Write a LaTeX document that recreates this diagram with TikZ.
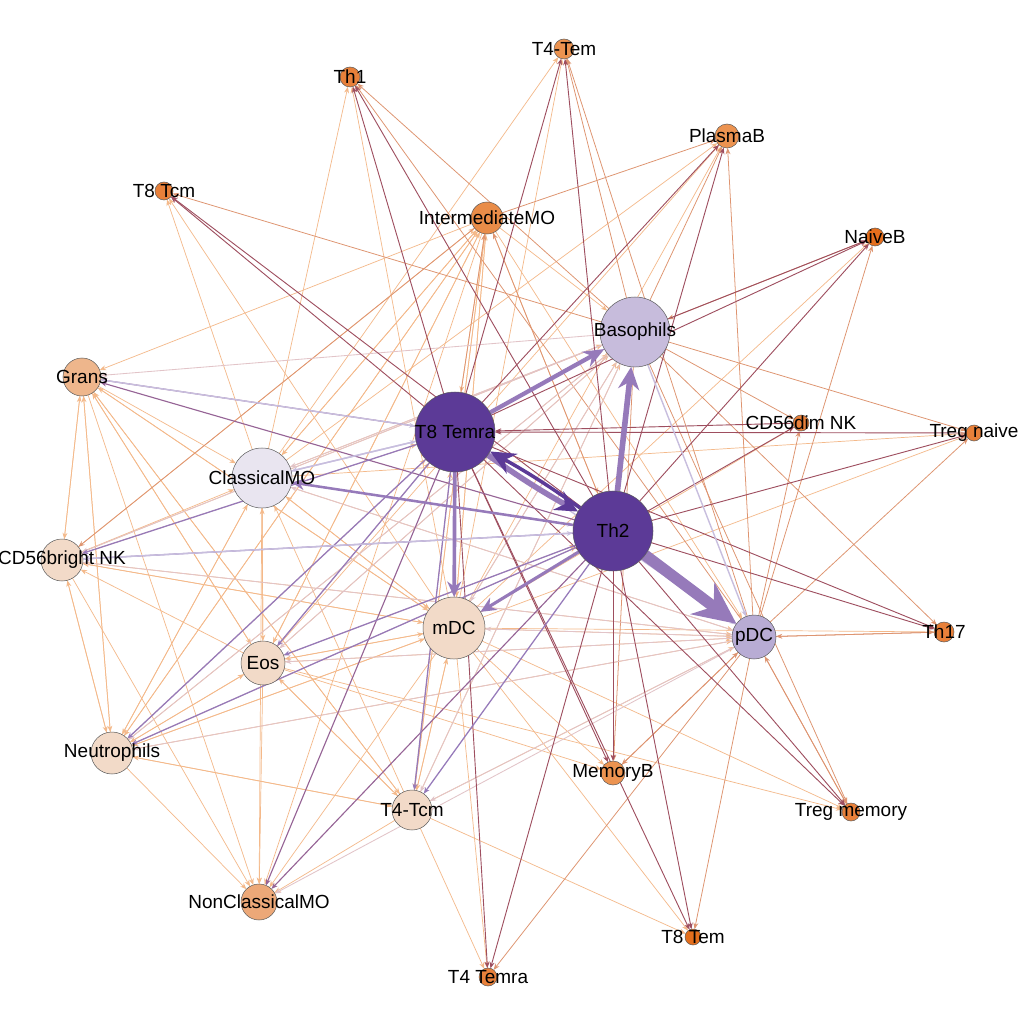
\documentclass[tikz,border=0pt]{standalone}
\usepackage{fontspec}
\setmainfont{Liberation Sans}
\usetikzlibrary{arrows.meta}
\pgfdeclarelayer{bg}
\pgfdeclarelayer{edges}
\pgfsetlayers{bg,edges,main}
\definecolor{cdk}{RGB}{158,78,95}
\definecolor{cor}{RGB}{222,148,112}
\definecolor{clo}{RGB}{244,185,138}
\definecolor{cpl}{RGB}{226,196,200}
\definecolor{cpu}{RGB}{150,122,186}
\definecolor{cmp}{RGB}{150,100,150}
\definecolor{clv}{RGB}{200,190,222}
\definecolor{cdp}{RGB}{92,58,151}
\definecolor{nDark}{RGB}{92,58,151}
\definecolor{nBas}{RGB}{199,188,220}
\definecolor{nPdc}{RGB}{184,172,212}
\definecolor{nCmo}{RGB}{233,229,240}
\definecolor{nPeach}{RGB}{242,218,200}
\definecolor{nGrans}{RGB}{238,182,140}
\definecolor{nNcmo}{RGB}{236,168,120}
\definecolor{nImo}{RGB}{233,140,72}
\definecolor{nOr}{RGB}{232,128,58}
\definecolor{nOrL}{RGB}{236,147,80}
\definecolor{nOrD}{RGB}{228,110,28}
\begin{document}
\begin{tikzpicture}[x=0.025cm,y=-0.025cm,
  cell/.style={circle, draw=black!65, line width=0.35pt, inner sep=0pt, outer sep=0pt},
  lbl/.style={font=\fontsize{13.5}{15}\selectfont, text=black, inner sep=0pt},
  e/.style={-{Stealth[length=4.5pt,width=3.5pt]}, line width=0.55pt},
  edk/.style={e, draw=cdk, line width=0.65pt},
  eor/.style={e, draw=cor},
  elo/.style={e, draw=clo, line width=0.5pt},
  epl/.style={e, draw=cpl, line width=0.6pt},
  epu/.style={e, draw=cpu, line width=0.9pt},
  emp/.style={e, draw=cmp, line width=0.8pt},
  elv/.style={e, draw=clv, line width=1pt}]
\begin{pgfonlayer}{bg}
\fill[white] (0,0) rectangle (1024,1024);
\end{pgfonlayer}
\useasboundingbox (0,0) rectangle (1024,1024);

% nodes
\node[cell, fill=nOr,  minimum size=0.5cm,  label={[lbl]center:Th1}] (th1) at (350,77) {};
\node[cell, fill=nOrL, minimum size=0.5cm,  label={[lbl]center:T4-Tem}] (t4tem) at (564,49) {};
\node[cell, fill=nOrL, minimum size=0.6cm,  label={[lbl]center:PlasmaB}] (plasmab) at (727,136) {};
\node[cell, fill=nOr,  minimum size=0.45cm, label={[lbl]center:T8 Tcm}] (t8tcm) at (164,191) {};
\node[cell, fill=nImo, minimum size=0.8cm,  label={[lbl]center:IntermediateMO}] (imo) at (487,218) {};
\node[cell, fill=nOrD, minimum size=0.45cm, label={[lbl]center:NaiveB}] (naiveb) at (875,237) {};
\node[cell, fill=nBas, minimum size=1.75cm, label={[lbl]center:Basophils}] (bas) at (635,332) {};
\node[cell, fill=nGrans, minimum size=0.95cm, label={[lbl]center:Grans}] (grans) at (82,377) {};
\node[cell, fill=nDark, minimum size=2cm,   label={[lbl]center:T8 Temra}] (t8a) at (455,432) {};
\node[cell, fill=nOr,  minimum size=0.4cm,  label={[lbl]center:CD56dim NK}] (cd56dim) at (801,423) {};
\node[cell, fill=nOr,  minimum size=0.4cm,  label={[lbl]center:Treg naive}] (tregn) at (974,433) {};
\node[cell, fill=nCmo, minimum size=1.5cm,  label={[lbl]center:ClassicalMO}] (cmo) at (262,478) {};
\node[cell, fill=nDark, minimum size=2cm,   label={[lbl]center:Th2}] (th2) at (613,531) {};
\node[cell, fill=nPeach, minimum size=1.05cm, label={[lbl]center:CD56bright NK}] (cd56b) at (62,560) {};
\node[cell, fill=nPeach, minimum size=1.55cm, label={[lbl]center:mDC}] (mdc) at (454,628) {};
\node[cell, fill=nPdc, minimum size=1.1cm,  label={[lbl]center:pDC}] (pdc) at (754,637) {};
\node[cell, fill=nOr,  minimum size=0.5cm,  label={[lbl]center:Th17}] (th17) at (944,632) {};
\node[cell, fill=nPeach, minimum size=1.1cm, label={[lbl]center:Eos}] (eos) at (263,663) {};
\node[cell, fill=nPeach, minimum size=1.05cm, label={[lbl]center:Neutrophils}] (neu) at (112,753) {};
\node[cell, fill=nOrL, minimum size=0.6cm,  label={[lbl]center:MemoryB}] (memb) at (613,773) {};
\node[cell, fill=nPeach, minimum size=1.0cm, label={[lbl]center:T4-Tcm}] (t4tcm) at (412,810) {};
\node[cell, fill=nOr,  minimum size=0.45cm, label={[lbl]center:Treg memory}] (tregm) at (851,812) {};
\node[cell, fill=nNcmo, minimum size=0.9cm, label={[lbl]center:NonClassicalMO}] (ncmo) at (259,902) {};
\node[cell, fill=nOrD, minimum size=0.4cm,  label={[lbl]center:T8 Tem}] (t8tem) at (693,937) {};
\node[cell, fill=nOr,  minimum size=0.45cm, label={[lbl]center:T4 Temra}] (t4temra) at (488,977) {};

\begin{pgfonlayer}{edges}
% light orange
\foreach \a/\b in {mdc/th1, cmo/th1, mdc/t4tem, cmo/t4tem, mdc/plasmab, cmo/plasmab, eos/plasmab,
  mdc/t8tcm, cmo/t8tcm, mdc/naiveb, mdc/cd56dim, mdc/tregn, cmo/tregn, mdc/th17, mdc/tregm, eos/tregm,
  mdc/memb, eos/memb, mdc/t8tem, t4tcm/t8tem, mdc/t4temra, t4tcm/t4temra,
  mdc/eos, mdc/neu, mdc/t4tcm, mdc/ncmo, mdc/cmo, mdc/grans, mdc/cd56b, mdc/bas, mdc/pdc, mdc/t8a, mdc/th2, mdc/imo,
  eos/grans, eos/cd56b, eos/neu, eos/ncmo, eos/t8a, eos/bas, eos/imo, eos/cmo, eos/th2, eos/mdc, eos/pdc, eos/t4tcm,
  neu/grans, neu/cd56b, neu/ncmo, neu/eos, neu/t8a, neu/th2, neu/imo, neu/pdc, neu/cmo, neu/bas, neu/mdc, neu/t4tcm,
  t4tcm/ncmo, t4tcm/neu, t4tcm/eos, t4tcm/cmo, t4tcm/grans, t4tcm/bas, t4tcm/imo, t4tcm/pdc, t4tcm/mdc, t4tcm/t8a,
  cd56b/grans, grans/cd56b, cd56b/neu, cd56b/cmo, cd56b/imo, cd56b/bas, cd56b/t8a, cd56b/mdc, cd56b/pdc, cd56b/ncmo,
  grans/cmo, grans/neu, grans/ncmo, grans/eos, grans/t4tcm, grans/mdc,
  imo/neu, imo/grans, imo/cmo, imo/eos, imo/mdc, imo/t4tcm, imo/bas, imo/pdc, imo/th2, imo/t8a, imo/ncmo,
  cmo/ncmo, cmo/eos, cmo/neu, cmo/bas, cmo/mdc, cmo/pdc, cmo/imo}
  \draw[elo] (\a) -- (\b);
% salmon
\foreach \a/\b in {bas/th1, pdc/th1, bas/t4tem, pdc/t4tem, bas/plasmab, pdc/plasmab, bas/t8tcm,
  pdc/naiveb, naiveb/bas, bas/cd56dim, pdc/cd56dim, bas/tregn, pdc/tregn, bas/th17, pdc/th17, th17/pdc,
  bas/tregm, pdc/tregm, tregm/pdc, bas/memb, pdc/memb, memb/pdc, pdc/t8tem, pdc/t4temra, imo/cd56b,
  imo/plasmab, t8a/imo, th2/imo}
  \draw[eor] (\a) -- (\b);
% pale pink
\foreach \a/\b in {bas/mdc, bas/eos, bas/cmo, bas/neu, bas/t4tcm, bas/grans, bas/cd56b,
  pdc/mdc, pdc/eos, pdc/neu, pdc/t4tcm, pdc/cd56b, pdc/cmo, pdc/ncmo}
  \draw[epl] (\a) -- (\b);
% dark maroon
\foreach \a/\b in {t8a/th1, th2/th1, t8a/t4tem, th2/t4tem, t8a/plasmab, th2/plasmab, t8a/t8tcm, th2/t8tcm,
  t8a/naiveb, th2/naiveb, bas/naiveb, cd56dim/t8a, tregn/t8a, th2/cd56dim, th2/tregn, t8a/th17, th2/th17,
  t8a/tregm, th2/tregm, t8a/memb, th2/memb, t8a/t8tem, th2/t8tem, t8a/t4temra, th2/t4temra}
  \draw[edk] (\a) -- (\b);
% purple-ish
\foreach \a/\b in {t8a/ncmo, th2/ncmo, t8a/grans, th2/grans}
  \draw[emp] (\a) -- (\b);
\foreach \a/\b in {t8a/eos, th2/eos, t8a/neu, th2/neu, t8a/t4tcm, th2/t4tcm, t8a/cd56b, th2/cd56b}
  \draw[epu] (\a) -- (\b);
\foreach \a/\b in {t8a/cmo, cmo/th2, cd56b/th2, bas/pdc, t8a/pdc, grans/t8a, cmo/t8a}
  \draw[elv] (\a) -- (\b);
% thick edges
\draw[draw=cpu, line width=1.8pt, -{Stealth[length=9pt,width=8pt]}] (th2) -- (cmo);
\draw[draw=cpu, line width=2.2pt, -{Stealth[length=11pt,width=10pt]}] (th2) -- (mdc);
\draw[draw=cpu, line width=2.6pt, -{Stealth[length=11pt,width=10pt]}] (t8a) -- (mdc);
\draw[draw=cpu, line width=3pt, -{Stealth[length=15pt,width=12pt]}] (t8a) -- (bas);
\draw[draw=cpu, line width=4pt, -{Stealth[length=16pt,width=15pt]}] (th2) -- (bas);
\draw[draw=cpu, line width=8pt, -{Stealth[length=30pt,width=28pt]}] (th2) -- (pdc);
\draw[draw=cpu, line width=4pt, -{Stealth[length=16pt,width=15pt,color=cdp]}] (t8a) to[bend right=3] (th2);
\draw[draw=cdp, line width=2.5pt, -{Stealth[length=18pt,width=16pt]}] (th2) to[bend right=3] (t8a);
\end{pgfonlayer}
\end{tikzpicture}
\end{document}
